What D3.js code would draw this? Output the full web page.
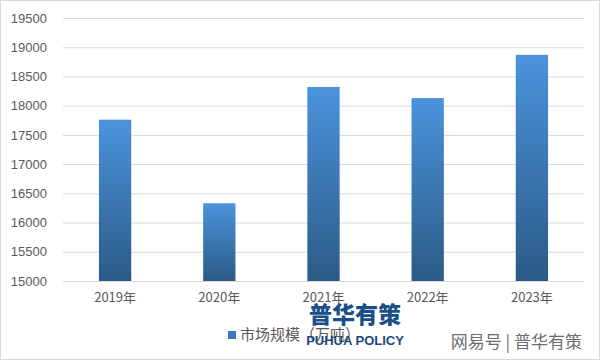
<!DOCTYPE html>
<html>
<head>
<meta charset="utf-8">
<script src="https://cdn.jsdelivr.net/npm/d3@7"></script>
<style>
  body { margin: 0; background: #fff; }
  text { font-family: "Noto Sans CJK SC", "Liberation Sans", sans-serif; }
</style>
</head>
<body>
<script>
// chart values
var years = ["2019年", "2020年", "2021年", "2022年", "2023年"];
var marketSize = [17760, 16330, 18320, 18130, 18870];
var yTicks = [15000, 15500, 16000, 16500, 17000, 17500, 18000, 18500, 19000, 19500];
var legendLabel = "市场规模（万吨）";

var W = 601, H = 361;
var margin = {top: 18, right: 17, bottom: 80, left: 63};

var svg = d3.select("body").append("svg")
    .attr("width", W)
    .attr("height", H);

// bar gradient, light on top, dark at the base
var grad = svg.append("defs").append("linearGradient")
    .attr("id", "barGrad")
    .attr("x1", 0).attr("y1", 0).attr("x2", 0).attr("y2", 1);
grad.append("stop").attr("offset", "0%").attr("stop-color", "#4b93dc");
grad.append("stop").attr("offset", "100%").attr("stop-color", "#2b5a86");

// outer frame
svg.append("rect")
    .attr("x", 0.5).attr("y", 0.5)
    .attr("width", W - 2).attr("height", H - 2)
    .attr("fill", "none")
    .attr("stroke", "#d9d9d9");

var x = d3.scaleBand()
    .domain(years)
    .range([margin.left, W - margin.right])
    .paddingInner(0.69)
    .paddingOuter(0.345);

var y = d3.scaleLinear()
    .domain([15000, 19500])
    .range([H - margin.bottom, margin.top]);

// gridlines + y labels via axis
var yAxis = svg.append("g")
    .attr("transform", "translate(" + margin.left + ",0)")
    .call(d3.axisLeft(y).tickValues(yTicks).tickFormat(d3.format("d"))
        .tickSize(-(W - margin.left - margin.right)).tickPadding(16));
yAxis.select(".domain").remove();
yAxis.selectAll(".tick line").attr("stroke", "#d9d9d9");
yAxis.selectAll(".tick text")
    .attr("fill", "#595959")
    .style("font-size", "13px")
    .style("font-family", "\"Liberation Sans\", sans-serif");

// bars
svg.selectAll("rect.bar")
    .data(marketSize)
    .enter().append("rect")
    .attr("class", "bar")
    .attr("x", function(d, i){ return x(years[i]); })
    .attr("y", function(d){ return y(d); })
    .attr("width", x.bandwidth())
    .attr("height", function(d){ return y(15000) - y(d); })
    .attr("fill", "url(#barGrad)");

// x labels
var xAxis = svg.append("g")
    .attr("transform", "translate(0," + (H - margin.bottom) + ")")
    .call(d3.axisBottom(x).tickSize(0).tickPadding(12));
xAxis.select(".domain").remove();
xAxis.selectAll(".tick text")
    .attr("fill", "#595959")
    .style("font-size", "13px");

// legend
var legend = svg.append("g").attr("transform", "translate(228,331)");
legend.append("rect")
    .attr("width", 8).attr("height", 8)
    .attr("fill", "#3d78b8");
legend.append("text")
    .attr("x", 12).attr("y", 9)
    .attr("fill", "#595959")
    .style("font-size", "15px")
    .text(legendLabel);

// watermark logo
svg.append("text")
    .attr("x", 355).attr("y", 323)
    .attr("text-anchor", "middle")
    .attr("fill", "#1a4f8a")
    .style("font-size", "23px")
    .style("font-weight", "900")
    .text("普华有策");
svg.append("text")
    .attr("x", 355).attr("y", 345)
    .attr("text-anchor", "middle")
    .attr("fill", "#1a4a7e")
    .style("font-size", "13px")
    .style("font-weight", "bold")
    .style("font-family", "\"Liberation Sans Narrow\", \"Liberation Sans\", sans-serif")
    .text("PUHUA POLICY");

// site watermark
svg.append("text")
    .attr("x", 582).attr("y", 348)
    .attr("text-anchor", "end")
    .attr("fill", "#6e6e6e")
    .attr("stroke", "#fff")
    .attr("stroke-width", 2)
    .attr("paint-order", "stroke")
    .style("font-size", "17px")
    .text("网易号 | 普华有策");
</script>
</body>
</html>
